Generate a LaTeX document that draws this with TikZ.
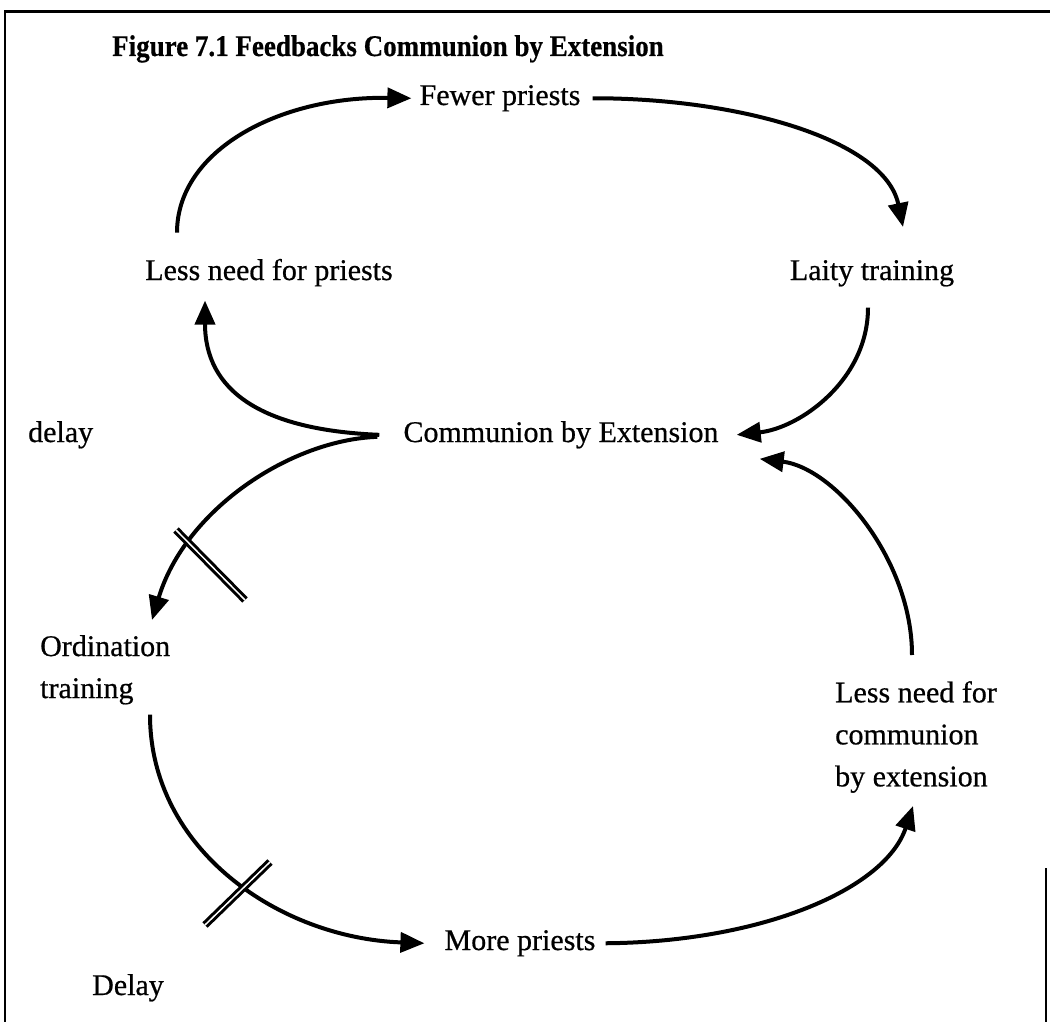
\documentclass[tikz,border=0pt]{standalone}
\usepackage{fontspec}
\setmainfont{Liberation Serif}[FakeBold=0.6]
\newfontfamily\headfont{Liberation Serif}[FakeBold=0.5, FakeStretch=0.9]
\usetikzlibrary{arrows.meta}
\begin{document}
\begin{tikzpicture}[x=1pt,y=-1pt,
  txt/.style={inner sep=0pt, font=\fontsize{30}{42}\selectfont},
  ttl/.style={inner sep=0pt, font=\headfont\fontsize{30}{36}\selectfont\bfseries},
  link/.style={line width=4pt, -{Triangle[length=24pt,width=20pt]}},
  delaybar/.style={double, double distance=1.5pt, line width=3pt},
  frame/.style={line width=2pt}]
\useasboundingbox (0,0) rectangle (1050,1022);

% frame of the figure
\draw[frame, line width=3pt] (4,12) -- (1050,12);
\draw[frame] (5,12) -- (5,1022);
\draw[frame] (1046,868) -- (1046,1022);

% title
\node[ttl, anchor=base west] (title) at (112,56) {Figure 7.1 Feedbacks Communion by Extension};

% variables of the two loops
\node[txt, anchor=base] (fewer) at (500,105) {Fewer priests};
\node[txt, anchor=base] (lnp) at (269,280) {Less need for priests};
\node[txt, anchor=base] (laity) at (872,280) {Laity training};
\node[txt, anchor=base] (cbe) at (561,442) {Communion by Extension};
\node[txt, anchor=base west] (delay1) at (28,442) {delay};
\node[txt, align=left, anchor=north west] (ord) at (40,635) {Ordination\\training};
\node[txt, align=left, anchor=north west] (lnc) at (835,681) {Less need for\\communion\\by extension};
\node[txt, anchor=base] (more) at (520,950) {More priests};
\node[txt, anchor=base west] (delay2) at (92,995) {Delay};

% upper loop
\draw[link] ([xshift=-92pt,yshift=26pt]lnp.north) .. controls (177,150) and (280,96) .. ([xshift=-8pt]fewer.west);
\draw[link] ([xshift=12pt]fewer.east) .. controls (740,98) and (885,140) .. ([xshift=31pt,yshift=33pt]laity.north);
\draw[link] ([xshift=-4pt,yshift=-21pt]laity.south) .. controls (868,380) and (800,428) .. ([xshift=18pt]cbe.east);
\draw[link] ([xshift=-24pt]cbe.west) .. controls (260,430) and (205,390) .. ([xshift=-64pt,yshift=-14pt]lnp.south);

% lower loop
\draw[link] ([xshift=-26pt,yshift=-2pt]cbe.west) .. controls (290,440) and (185,510) .. ([xshift=112pt,yshift=15pt]ord.north west);
\draw[delaybar] (176,530) -- (245,600);
\draw[link] ([xshift=110pt,yshift=-10pt]ord.south west) .. controls (150,850) and (280,938) .. ([xshift=-20pt]more.west);
\draw[delaybar] (205,925) -- (270,862);
\draw[link] ([xshift=10pt]more.east) .. controls (760,942) and (885,890) .. ([xshift=78pt,yshift=-13pt]lnc.south west);
\draw[link] ([xshift=77pt,yshift=26pt]lnc.north west) .. controls (912,560) and (835,468) .. ([xshift=41pt,yshift=-24pt]cbe.east);
\end{tikzpicture}
\end{document}
